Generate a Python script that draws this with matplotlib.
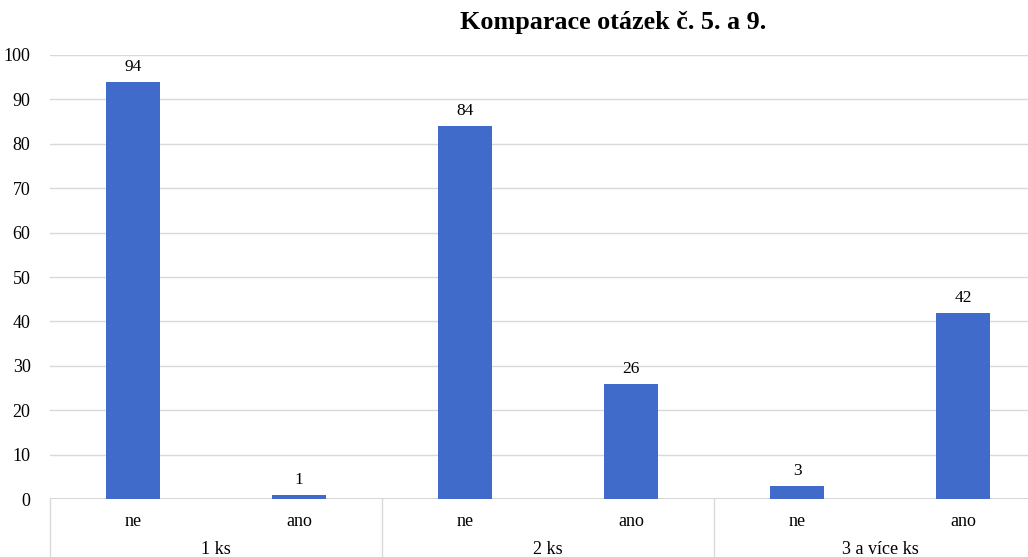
import matplotlib.pyplot as plt
import matplotlib.transforms as mtransforms

# --- Data --------------------------------------------------------------------
groups = ["1 ks", "2 ks", "3 a více ks"]
answers = ["ne", "ano"]
values = [94, 1, 84, 26, 3, 42]
title = "Komparace otázek č. 5. a 9."

plt.rcParams['font.family'] = ['Liberation Serif', 'DejaVu Serif']

W, H = 1028, 557
fig = plt.figure(figsize=(W / 100, H / 100), dpi=100)
# plot area runs a little past the right edge of the figure
ax = fig.add_axes([50 / W, 1 - 499 / H, 996 / W, 444 / H])

x = list(range(len(values)))
ax.bar(x, values, width=0.32, color='#416BCB', zorder=3)
for xi, v in zip(x, values):
    ax.annotate(str(v), (xi, v), xytext=(0, 5), textcoords='offset points',
                ha='center', va='bottom', fontsize=12.5)

ax.set_xlim(-0.5, len(values) - 0.5)
ax.set_ylim(0, 100)
ax.set_yticks(range(0, 101, 10))
ax.yaxis.grid(True, color='#d9d9d9', linewidth=1, zorder=0)
ax.tick_params(axis='y', length=0, pad=14, labelsize=13)
ax.set_xticks([])
for s in ax.spines.values():
    s.set_visible(False)
ax.axhline(0, color='#d0d0d0', linewidth=1.2, zorder=2)

# two-level category axis
trans = mtransforms.blended_transform_factory(ax.transData, ax.transAxes)
for i, g in enumerate(groups):
    for j, a in enumerate(answers):
        ax.text(2 * i + j, -22 / 444, a, transform=trans, ha='center',
                va='center', fontsize=13)
    ax.text(2 * i + 0.5, -51 / 444, g, transform=trans, ha='center',
            va='center', fontsize=13)
for k in range(len(groups) + 1):
    ax.plot([2 * k - 0.5] * 2, [0, -0.2], transform=trans, color='#d9d9d9',
            linewidth=1, clip_on=False)

fig.text(613 / W, 1 - 22 / H, title, ha='center', va='center',
         fontsize=18.8, fontweight='bold')

fig.savefig('out.png', dpi=100)
